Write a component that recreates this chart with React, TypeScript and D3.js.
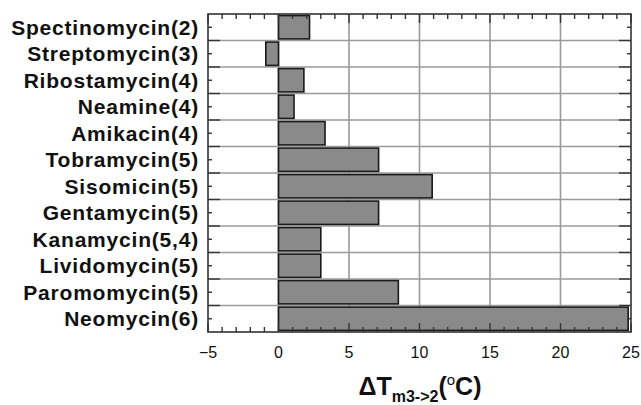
import React, { useEffect, useRef } from 'react'
import * as d3 from 'd3'

const drugs = [
  'Spectinomycin(2)', 'Streptomycin(3)', 'Ribostamycin(4)', 'Neamine(4)',
  'Amikacin(4)', 'Tobramycin(5)', 'Sisomicin(5)', 'Gentamycin(5)',
  'Kanamycin(5,4)', 'Lividomycin(5)', 'Paromomycin(5)', 'Neomycin(6)',
]
const deltaTm = [2.2, -0.9, 1.8, 1.1, 3.3, 7.1, 10.9, 7.1, 3.0, 3.0, 8.5, 24.8]
const xTicks = [-5, 0, 5, 10, 15, 20, 25]

export default function App() {
  const ref = useRef<SVGSVGElement>(null)

  useEffect(() => {
    const svg = d3.select(ref.current)
    svg.selectAll('*').remove()

    const left = 208, right = 631, top = 14, bottom = 332
    const x = d3.scaleLinear().domain([-5, 25]).range([left, right])
    const y = d3.scaleBand().domain(drugs).range([top, bottom]).paddingInner(0.12).paddingOuter(0.06)
    const bandTop = (i) => top + i * (bottom - top) / drugs.length

    const g = svg.append('g')

    // grid
    const grid = g.append('g').attr('stroke', '#9a9a9a').attr('stroke-width', 1.6)
    xTicks.slice(1, -1).forEach(t => {
      grid.append('line').attr('x1', x(t)).attr('x2', x(t)).attr('y1', top).attr('y2', bottom)
    })
    d3.range(1, drugs.length).forEach(i => {
      grid.append('line').attr('x1', left).attr('x2', right).attr('y1', bandTop(i)).attr('y2', bandTop(i))
    })

    // bars
    g.append('g').selectAll('rect').data(deltaTm).enter().append('rect')
      .attr('x', d => x(Math.min(0, d)))
      .attr('width', d => Math.abs(x(d) - x(0)))
      .attr('y', (d, i) => y(drugs[i]))
      .attr('height', y.bandwidth())
      .attr('fill', '#8a8a8a')
      .attr('stroke', '#1a1a1a')
      .attr('stroke-width', 1.6)

    // frame
    g.append('rect').attr('x', left).attr('y', top).attr('width', right - left).attr('height', bottom - top)
      .attr('fill', 'none').attr('stroke', '#333').attr('stroke-width', 1.6)

    // ticks
    const tk = g.append('g').attr('stroke', '#333').attr('stroke-width', 1.4)
    d3.range(-5, 25.01, 1).forEach(v => {
      const major = v % 5 === 0
      const len = major ? 9 : 5
      tk.append('line').attr('x1', x(v)).attr('x2', x(v)).attr('y1', top).attr('y2', top + len)
      tk.append('line').attr('x1', x(v)).attr('x2', x(v)).attr('y1', bottom).attr('y2', bottom - len)
    })
    drugs.forEach((d, i) => {
      const c = y(d) + y.bandwidth() / 2
      tk.append('line').attr('x1', left).attr('x2', left + 4).attr('y1', c).attr('y2', c)
      tk.append('line').attr('x1', right).attr('x2', right - 4).attr('y1', c).attr('y2', c)
      if (i > 0) {
        tk.append('line').attr('x1', left).attr('x2', left + 12).attr('y1', bandTop(i)).attr('y2', bandTop(i))
        tk.append('line').attr('x1', right).attr('x2', right - 12).attr('y1', bandTop(i)).attr('y2', bandTop(i))
      }
    })

    // x tick labels
    g.append('g').selectAll('text').data(xTicks).enter().append('text')
      .attr('x', d => x(d)).attr('y', 358)
      .attr('text-anchor', 'middle')
      .attr('font-family', 'Liberation Sans, Arial, sans-serif')
      .attr('font-size', 16)
      .attr('fill', '#111')
      .text(d => d < 0 ? '\u2212' + Math.abs(d) : String(d))

    // category labels
    g.append('g').selectAll('text').data(drugs).enter().append('text')
      .attr('x', 199)
      .attr('y', d => y(d) + y.bandwidth() / 2)
      .attr('dy', '0.36em')
      .attr('text-anchor', 'end')
      .attr('font-family', 'Liberation Sans, Arial, sans-serif')
      .attr('font-weight', 'bold')
      .attr('font-size', 21)
      .attr('letter-spacing', 0.8)
      .attr('fill', '#111')
      .text(d => d)

    // axis title
    const title = g.append('text')
      .attr('x', 420).attr('y', 395)
      .attr('text-anchor', 'middle')
      .attr('font-family', 'Liberation Sans, Arial, sans-serif')
      .attr('font-weight', 'bold')
      .attr('font-size', 25)
      .attr('fill', '#111')
    title.append('tspan').text('\u0394T')
    title.append('tspan').attr('font-size', 16).attr('dy', 7).text('m3->2')
    title.append('tspan').attr('dy', -7).text('(')
    title.append('tspan').attr('font-size', 15).attr('font-weight', 'normal').attr('dy', -10).text('o')
    title.append('tspan').attr('dy', 10).text('C)')
  }, [])

  return (
    <svg ref={ref} width={641} height={405} style={{ position: 'absolute', left: 0, top: 0, background: '#fff' }} />
  )
}
